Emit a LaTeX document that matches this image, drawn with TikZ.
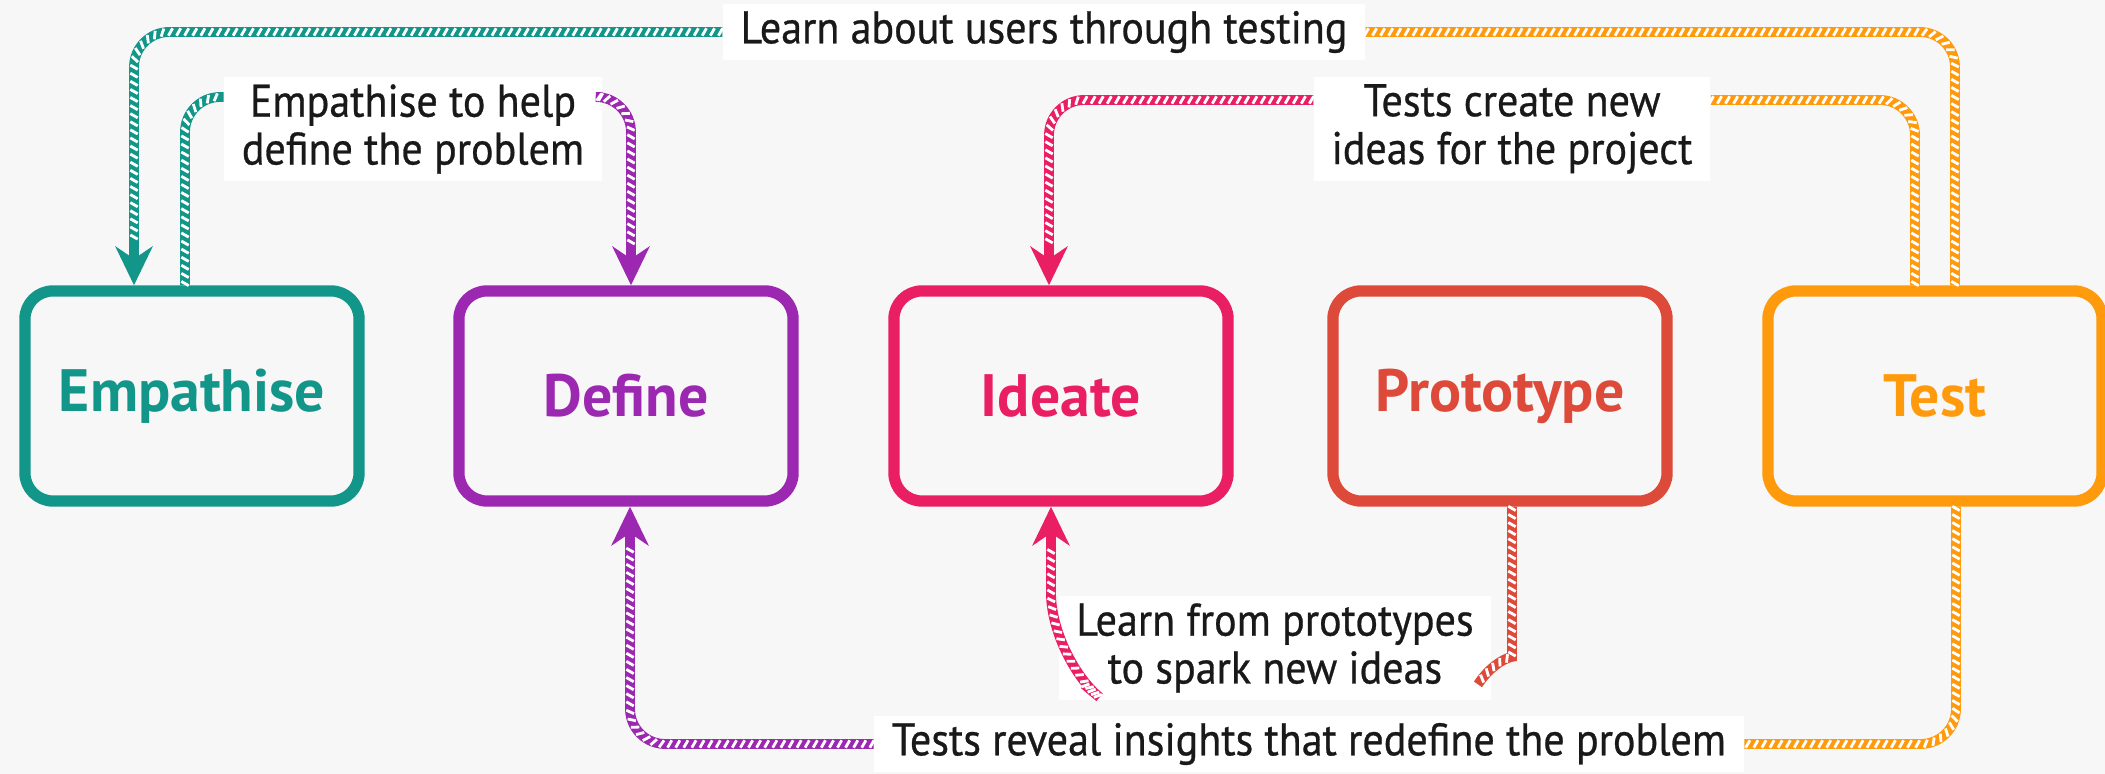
\documentclass[tikz,border=0pt]{standalone}
\usepackage{fontspec}
\setmainfont{PT Sans}
\newfontfamily\hintfont{PT Sans}[FakeStretch=0.92, FakeBold=0.6]
\usetikzlibrary{arrows.meta, calc, positioning, decorations.markings}

\definecolor{bgcol}{HTML}{F7F7F7}
\definecolor{empcol}{HTML}{13968A}
\definecolor{defcol}{HTML}{9C27B0}
\definecolor{ideacol}{HTML}{E91E63}
\definecolor{protcol}{HTML}{DE4A3A}
\definecolor{testcol}{HTML}{FF9A0D}

\tikzset{
  stage/.style={draw=#1, text=#1, fill=bgcol, line width=3.2pt, rounded corners=8pt,
    minimum width=3.34cm, minimum height=2.10cm, font=\bfseries\fontsize{17}{20}\selectfont},
  hint/.style={fill=white, align=center, inner xsep=5pt, inner ysep=2pt, text=black!90,
    font=\hintfont\fontsize{13}{13.6}\selectfont},
  wire/.style={draw=#1, line width=2.8pt, rounded corners=10pt},
  stripes/.style={postaction={decorate, decoration={markings,
    mark=between positions 0.5pt and #1 step 2.3pt with
      {\draw[white, line width=0.8pt, -] (-0.6pt,-1.05pt) -- (0.6pt,1.05pt);}}}},
  hatch/.style={wire=#1, stripes=1},
  hatcharrow/.style={wire=#1, -{Stealth[length=11pt, width=10.5pt, inset=3.5pt]}, stripes=-12pt}
}

\begin{document}
\begin{tikzpicture}[x=0.01cm, y=-0.01cm]

% canvas
\fill[bgcol] (0,0) rectangle (2105,774);
\useasboundingbox (0,0) rectangle (2105,774);

% the five stages
\node[stage=empcol] (emp) at (192,396) {Empathise};
\node[stage=defcol] (def) at (626,396) {Define};
\node[stage=ideacol] (idea) at (1061,396) {Ideate};
\node[stage=protcol] (prot) at (1500,396) {Prototype};
\node[stage=testcol] (test) at (1935,396) {Test};

% labels
\node[hint] (users) at (1044,32) {Learn about users through testing};
\node[hint] (empdef) at (413,129) {Empathise to help\\define the problem};
\node[hint] (newideas) at (1512,129) {Tests create new\\ideas for the project};
\node[hint] (spark) at (1275,648) {Learn from prototypes\\to spark new ideas};
\node[hint] (reveal) at (1309,744) {Tests reveal insights that redefine the problem};

% ports on the boxes
\coordinate (empA) at ($(emp.north)+(-58,0)$);
\coordinate (empB) at ($(emp.north)+(-7,0)$);
\coordinate (defA) at ($(def.north)+(5,0)$);
\coordinate (defB) at ($(def.south)+(4,0)$);
\coordinate (ideaA) at ($(idea.north)+(-12,0)$);
\coordinate (ideaB) at ($(idea.south)+(-10,0)$);
\coordinate (protB) at ($(prot.south)+(12,0)$);
\coordinate (testA) at ($(test.north)+(-20,0)$);
\coordinate (testB) at ($(test.north)+(20,0)$);
\coordinate (testC) at ($(test.south)+(21,0)$);

% top loops
\draw[hatcharrow=empcol] (users.west) -| (empA);
\draw[hatch=testcol] (testB) |- (users.east);
\draw[hatch=empcol] (empB) |- ($(empdef.west)+(0,-32)$);
\draw[hatcharrow=defcol] ($(empdef.east)+(0,-32)$) -| (defA);
\draw[hatcharrow=ideacol] ($(newideas.west)+(0,-29)$) -| (ideaA);
\draw[hatch=testcol] (testA) |- ($(newideas.east)+(0,-29)$);

% bottom loops
\draw[hatch=protcol] (protB) -- ++(0,115) .. controls +(0,35) and +(16,-24) .. ($(spark.south east)+(-14,-16)$);
\draw[hatcharrow=ideacol, rounded corners=18pt] ($(spark.south west)+(26,-16)$) -- ($(ideaB)+(0,150)$) -- (ideaB);
\draw[hatcharrow=defcol] (reveal.west) -| (defB);
\draw[hatch=testcol] (testC) |- (reveal.east);

\end{tikzpicture}
\end{document}
